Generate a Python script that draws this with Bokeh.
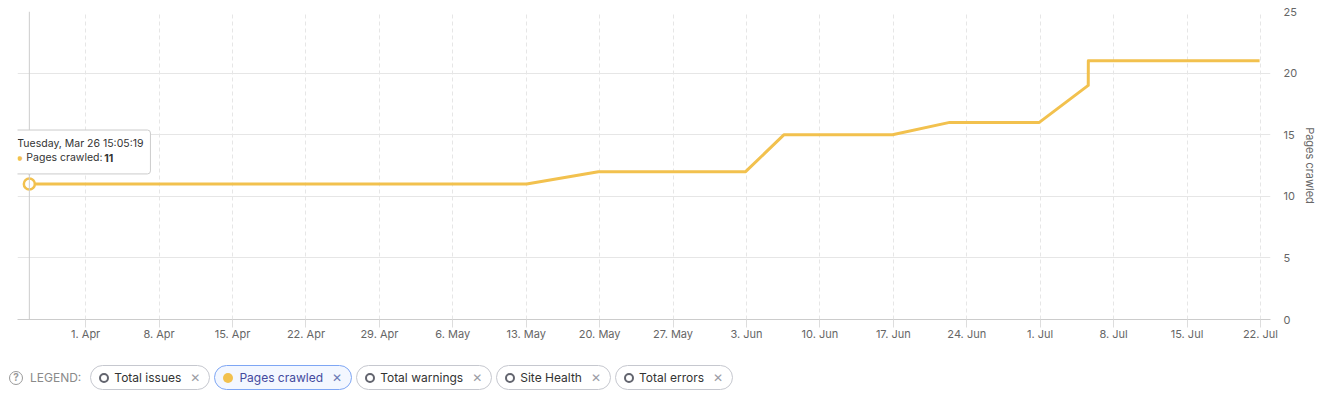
import pandas as pd
from bokeh.plotting import figure
from bokeh.layouts import column
from bokeh.models import (FixedTicker, DatetimeTickFormatter, Span, Label, Div,
                          Range1d, ColumnDataSource)
from bokeh.embed import file_html
from bokeh.resources import INLINE

# ---------------- data ----------------
crawl_dates = ["2024-03-26 15:05:19", "2024-05-13 01:00:00", "2024-05-19 21:00:00",
               "2024-06-02 22:00:00", "2024-06-06 14:00:00", "2024-06-16 22:00:00",
               "2024-06-22 09:00:00", "2024-06-30 22:00:00", "2024-07-05 14:00:00",
               "2024-07-05 14:10:00", "2024-07-21 22:00:00"]
pages_crawled = [11, 11, 12, 12, 15, 15, 16, 16, 19, 21, 21]

x_tick_dates = ["2024-04-01", "2024-04-08", "2024-04-15", "2024-04-22", "2024-04-29",
                "2024-05-06", "2024-05-13", "2024-05-20", "2024-05-27", "2024-06-03",
                "2024-06-10", "2024-06-17", "2024-06-24", "2024-07-01", "2024-07-08",
                "2024-07-15", "2024-07-22"]
y_ticks = [0, 5, 10, 15, 20, 25]
x_start, x_end = "2024-03-25 12:00:00", "2024-07-22 23:00:00"

legend_items = ["Total issues", "Pages crawled", "Total warnings", "Site Health", "Total errors"]
active_item = "Pages crawled"
tooltip_title = "Tuesday, Mar 26 15:05:19"
tooltip_series = "Pages crawled:"

# ---------------- styles ----------------
YELLOW = "#F2C14E"
FONT = "Inter"
GRID = "#e6e6e6"
LABEL = "#666666"

def ms(s):
    return pd.Timestamp(s).value / 1e6

src = ColumnDataSource(dict(x=[pd.Timestamp(d) for d in crawl_dates], y=pages_crawled))

p = figure(x_axis_type="datetime", frame_width=1253, frame_height=308,
           min_border_left=17, min_border_top=11, min_border_right=50, min_border_bottom=29,
           y_axis_location="right", toolbar_location=None, output_backend="svg",
           x_range=Range1d(ms(x_start), ms(x_end)), y_range=Range1d(0, 25))
p.outline_line_color = None
p.background_fill_color = "white"
p.border_fill_color = "white"

# grids
p.xgrid.grid_line_color = GRID
p.xgrid.grid_line_dash = "4 3"
p.ygrid.grid_line_color = GRID

# x axis
xa = p.xaxis[0]
xa.ticker = FixedTicker(ticks=[ms(d) for d in x_tick_dates])
fmt = "%-d. %b"
xa.formatter = DatetimeTickFormatter(days=fmt, months=fmt, hours=fmt, years=fmt)
xa.axis_line_color = "#cccccc"
xa.major_tick_line_color = "#dddddd"
xa.major_tick_out = 8
xa.major_tick_in = 0
xa.minor_tick_line_color = None
xa.major_label_text_color = LABEL
xa.major_label_text_font = FONT
xa.major_label_text_font_size = "11px"
xa.major_label_standoff = -1

# y axis (right)
ya = p.yaxis[0]
ya.ticker = FixedTicker(ticks=y_ticks)
ya.axis_line_color = None
ya.major_tick_line_color = None
ya.major_tick_out = 0
ya.major_tick_in = 0
ya.minor_tick_line_color = None
ya.major_label_text_color = LABEL
ya.major_label_text_font = FONT
ya.major_label_text_font_size = "11px"
ya.major_label_standoff = 13
ya.axis_label = "Pages crawled"
ya.axis_label_text_font = FONT
ya.axis_label_text_font_size = "11px"
ya.axis_label_text_font_style = "normal"
ya.axis_label_text_color = LABEL
ya.axis_label_standoff = 3

# crosshair
p.add_layout(Span(location=ms(crawl_dates[0]), dimension="height",
                  line_color="#cccccc", line_width=1))

# series
p.line("x", "y", source=src, line_color=YELLOW, line_width=3, line_join="round")
p.scatter(x=[pd.Timestamp(crawl_dates[0])], y=[pages_crawled[0]], size=11,
          fill_color="white", line_color=YELLOW, line_width=2.5)

# tooltip
x0, y0 = ms(crawl_dates[0]), pages_crawled[0]
p.add_layout(Label(x=x0, y=y0, x_offset=0, y_offset=12, text="\u25BC",
                   text_font="DejaVu Sans", text_font_size="9px", text_color="#cccccc",
                   text_baseline="middle", text_align="center"))
p.add_layout(Label(x=x0, y=y0, x_offset=-19, y_offset=32, text=tooltip_title + "\n\u00a0",
                   text_font=FONT, text_font_size="10.5px", text_color="#333333",
                   text_baseline="middle", text_align="left", text_line_height=1.3,
                   padding=(7, 7), border_radius=3,
                   background_fill_color="white", background_fill_alpha=1.0,
                   border_line_color="#cccccc"))
p.add_layout(Label(x=x0, y=y0, x_offset=0, y_offset=13, text="\u25BC",
                   text_font="DejaVu Sans", text_font_size="7px", text_color="white",
                   text_baseline="middle", text_align="center"))
p.add_layout(Label(x=x0, y=y0, x_offset=-12, y_offset=26, text="\u25CF",
                   text_font="DejaVu Sans", text_font_size="6px", text_color=YELLOW,
                   text_baseline="middle", text_align="left"))
p.add_layout(Label(x=x0, y=y0, x_offset=-3, y_offset=26, text=tooltip_series,
                   text_font=FONT, text_font_size="10.5px", text_color="#333333",
                   text_baseline="middle", text_align="left"))
p.add_layout(Label(x=x0, y=y0, x_offset=75, y_offset=26, text=str(y0),
                   text_font=FONT, text_font_size="10.5px", text_color="#333333",
                   text_font_style="bold", text_baseline="middle", text_align="left"))

# legend (HTML)
chips = []
for name in legend_items:
    if name == active_item:
        chip_style = "border:1px solid #7ea6f4;background:#f3f7ff;color:#444a9e;"
        icon = f"<span style='display:inline-block;width:10px;height:10px;border-radius:50%;background:{YELLOW};margin-right:6px;'></span>"
        xcol = "#6a7ab4"
    else:
        chip_style = "border:1px solid #c6c8cf;background:#fff;color:#333;"
        icon = "<span style='display:inline-block;box-sizing:border-box;width:10px;height:10px;border-radius:50%;border:2px solid #62646e;margin-right:5px;'></span>"
        xcol = "#9a9ca4"
    chips.append(
        f"<span style='display:inline-flex;align-items:center;box-sizing:border-box;height:25px;"
        f"border-radius:13px;padding:0 9px 0 8px;margin-right:4px;font-size:12px;{chip_style}'>"
        f"{icon}<span>{name}</span>"
        f"<span style='margin-left:9px;color:{xcol};font-family:DejaVu Sans;font-size:12px;"
        f"font-weight:bold;line-height:1;'>\u2715</span></span>")

legend_html = (
    f"<div style='display:flex;align-items:center;font-family:{FONT},sans-serif;padding-top:17px;'>"
    "<span style='display:inline-flex;align-items:center;justify-content:center;box-sizing:border-box;"
    "width:14px;height:14px;border-radius:50%;border:1.5px solid #9a9a9a;color:#9a9a9a;font-size:10px;"
    "font-weight:bold;margin-left:9px;'>?</span>"
    "<span style='color:#8a8a8a;font-size:12px;margin-left:7px;margin-right:9px;'>LEGEND:</span>"
    + "".join(chips) + "</div>")

div = Div(text=legend_html, width=1320, height=38, margin=(0, 0, 0, 0))

layout = column(p, div, spacing=0)
open("out.html", "w").write(file_html(layout, INLINE))
